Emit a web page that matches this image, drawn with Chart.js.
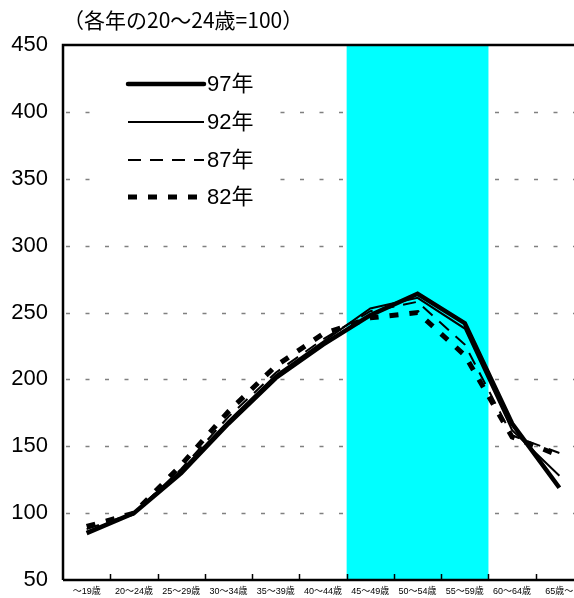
<!DOCTYPE html>
<html>
<head>
<meta charset="utf-8">
<script src="https://cdn.jsdelivr.net/npm/chart.js@4.4.1/dist/chart.umd.min.js"></script>
<style>
  html, body { margin: 0; padding: 0; background: #fff; overflow: hidden; }
  #wrap { width: 600px; height: 598px; overflow: hidden; }
</style>
</head>
<body>
<div id="wrap"><canvas id="grafico" width="600" height="598"></canvas></div>
<script>
// 年齢階級別賃金（各年の20～24歳=100）
const categorias = ['～19歳', '20～24歳', '25～29歳', '30～34歳', '35～39歳', '40～44歳',
                    '45～49歳', '50～54歳', '55～59歳', '60～64歳', '65歳～'];
const ano97 = [85, 100, 130, 167, 201, 226, 248, 264, 242, 167, 119];
const ano92 = [86, 100, 132, 169, 203, 228, 253, 261, 238, 162, 128];
const ano87 = [88, 100, 133, 172, 205, 230, 251, 258, 226, 158, 145];
const ano82 = [90, 100, 136, 176, 210, 234, 246, 250, 218, 157, 143];
const yTicks = [50, 100, 150, 200, 250, 300, 350, 400, 450];
// 網掛けする年齢階級（45～49歳 から 55～59歳）
const faixaInicio = 6;
const faixaFim = 8;

const FONTE = '"Liberation Sans", Arial, "Noto Sans CJK JP", sans-serif';
const AREA = { left: 63, top: 45, bottom: 580, right: 583 };

const series = [
  { label: '97年', data: ano97, borderWidth: 4.5, borderDash: [] },
  { label: '92年', data: ano92, borderWidth: 2, borderDash: [] },
  { label: '87年', data: ano87, borderWidth: 2, borderDash: [13, 9] },
  { label: '82年', data: ano82, borderWidth: 5, borderDash: [9, 11] }
];

// グリッド線と網掛け（線の下）
const fundoPlugin = {
  id: 'fundo',
  beforeDatasetsDraw(chart) {
    const { ctx, chartArea: a, scales: { x, y } } = chart;
    ctx.save();
    ctx.strokeStyle = '#808080';
    ctx.lineWidth = 1.3;
    ctx.setLineDash([4, 15.5]);
    yTicks.slice(1, -1).forEach(v => {
      const py = Math.round(y.getPixelForValue(v)) + 0.5;
      ctx.beginPath();
      ctx.moveTo(a.left + 3, py);
      ctx.lineTo(a.right, py);
      ctx.stroke();
    });
    ctx.setLineDash([]);
    const x0 = x.getPixelForValue(faixaInicio - 0.5);
    const x1 = x.getPixelForValue(faixaFim + 0.5);
    ctx.fillStyle = '#00ffff';
    ctx.fillRect(x0, a.top, x1 - x0, a.bottom - a.top);
    ctx.restore();
  },
  afterDatasetsDraw(chart) {
    const { ctx, chartArea: a, scales: { x } } = chart;
    ctx.save();
    ctx.strokeStyle = '#000';
    ctx.lineWidth = 2.5;
    ctx.beginPath();
    ctx.moveTo(a.left, a.bottom);
    ctx.lineTo(a.left, a.top);
    ctx.lineTo(a.right, a.top);
    ctx.moveTo(a.left, a.bottom);
    ctx.lineTo(a.right, a.bottom);
    ctx.stroke();
    // 目盛り（内向き）
    ctx.lineWidth = 1.5;
    for (let i = 1; i < categorias.length; i++) {
      const px = Math.round(x.getPixelForValue(i - 0.5)) + 0.5;
      ctx.beginPath();
      ctx.moveTo(px, a.bottom);
      ctx.lineTo(px, a.bottom - 6);
      ctx.stroke();
    }
    ctx.restore();
  }
};

// 目盛りラベル、タイトル、凡例
const textoPlugin = {
  id: 'texto',
  afterDraw(chart) {
    const { ctx, chartArea: a, scales: { x, y } } = chart;
    ctx.save();
    ctx.fillStyle = '#000';
    ctx.textBaseline = 'middle';

    ctx.font = '22px ' + FONTE;
    ctx.textAlign = 'right';
    yTicks.forEach(v => ctx.fillText(String(v), 48, y.getPixelForValue(v)));

    ctx.font = '9px ' + FONTE;
    ctx.textAlign = 'center';
    categorias.forEach((c, i) => ctx.fillText(c, x.getPixelForValue(i), a.bottom + 12));

    ctx.textAlign = 'left';
    ctx.font = '21px "Noto Sans CJK JP", sans-serif';
    ctx.fillText('（各年の20～24歳=100）', 63, 20);

    ctx.fillStyle = '#fff';
    ctx.fillRect(100, 64, 180, 152);
    const ys = [84, 122, 160, 197];
    chart.data.datasets.forEach((ds, i) => {
      ctx.strokeStyle = '#000';
      ctx.lineWidth = ds.borderWidth;
      ctx.setLineDash(ds.borderDash);
      ctx.lineCap = i === 0 ? 'round' : 'butt';
      ctx.beginPath();
      ctx.moveTo(128, ys[i]);
      ctx.lineTo(204, ys[i]);
      ctx.stroke();
      ctx.setLineDash([]);
      ctx.fillStyle = '#000';
      ctx.font = '22px ' + FONTE;
      ctx.fillText(ds.label, 207, ys[i] + 1);
    });
    ctx.restore();
  }
};

// 描画領域を固定する
const areaPlugin = {
  id: 'area',
  afterLayout(chart) {
    const { x, y } = chart.scales;
    Object.assign(chart.chartArea, AREA, { width: AREA.right - AREA.left, height: AREA.bottom - AREA.top });
    [x, y].forEach(s => {
      s.left = AREA.left; s.right = AREA.right; s.top = AREA.top; s.bottom = AREA.bottom;
      s.width = AREA.right - AREA.left; s.height = AREA.bottom - AREA.top;
      s.configure();
    });
  }
};

new Chart(document.getElementById('grafico'), {
  type: 'line',
  data: {
    labels: categorias,
    datasets: series.map((s, i) => ({
      label: s.label,
      data: s.data,
      borderColor: '#000',
      borderWidth: s.borderWidth,
      borderDash: s.borderDash,
      pointRadius: 0,
      tension: 0,
      fill: false,
      order: i
    }))
  },
  options: {
    responsive: false,
    animation: false,
    plugins: { legend: { display: false }, tooltip: { enabled: false } },
    scales: {
      x: {
        offset: true,
        grid: { display: false, drawTicks: false },
        border: { display: false },
        ticks: { display: false }
      },
      y: {
        min: 50,
        max: 450,
        grid: { display: false, drawTicks: false },
        border: { display: false },
        ticks: { display: false }
      }
    }
  },
  plugins: [areaPlugin, fundoPlugin, textoPlugin]
});
</script>
</body>
</html>
